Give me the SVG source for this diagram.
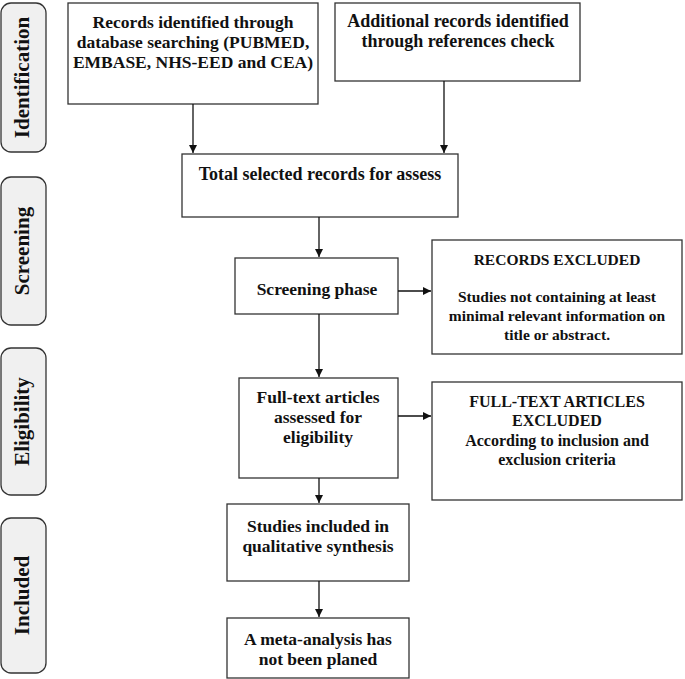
<svg xmlns="http://www.w3.org/2000/svg" width="685" height="679" viewBox="0 0 685 679">
<style>
.box{fill:#fff;stroke:#333;stroke-width:1.3}
.side{fill:#f0f0f0;stroke:#333;stroke-width:1.3}
text{font-family:"Liberation Serif","Times New Roman",serif;font-weight:bold;fill:#111;text-anchor:middle}
.t{font-size:17.5px}
.b{font-size:18px}
.r{font-size:15.5px}
.f{font-size:16px}
.s{font-size:21px}
.c{stroke:#111;stroke-width:1.3;fill:none;marker-end:url(#ah)}
</style>
<defs>
<marker id="ah" viewBox="0 0 10 10" refX="10" refY="5" markerWidth="8" markerHeight="8" markerUnits="userSpaceOnUse" orient="auto">
<path d="M0,0 L10,5 L0,10 Z" fill="#111"/>
</marker>
</defs>
<rect width="685" height="679" fill="#fff"/>
<g id="lab-identification"><rect class="side" x="1" y="3" width="45" height="149" rx="10"/><text class="s" transform="translate(29,77.5) rotate(-90)">Identification</text></g>
<g id="lab-screening"><rect class="side" x="1" y="177" width="45" height="148" rx="10"/><text class="s" transform="translate(29,251) rotate(-90)">Screening</text></g>
<g id="lab-eligibility"><rect class="side" x="1" y="348" width="45" height="147" rx="10"/><text class="s" transform="translate(29,421.5) rotate(-90)">Eligibility</text></g>
<g id="lab-included"><rect class="side" x="1" y="518" width="45" height="155" rx="10"/><text class="s" transform="translate(29,595.5) rotate(-90)">Included</text></g>
<g id="n-db"><rect class="box" x="68" y="3" width="250" height="101"/><text class="t" x="193" y="28">Records identified through</text><text class="t" x="193" y="48">database searching (PUBMED,</text><text class="t" x="193" y="68">EMBASE, NHS-EED and CEA)</text></g>
<g id="n-add"><rect class="box" x="335" y="3" width="245" height="78"/><text class="b" x="458" y="27">Additional records identified</text><text class="b" x="458" y="47">through references check</text></g>
<g id="n-total"><rect class="box" x="182" y="154" width="276" height="63"/><text class="b" x="320" y="180">Total selected records for assess</text></g>
<g id="n-screen"><rect class="box" x="235" y="258" width="163" height="56"/><text class="t" x="317" y="295">Screening phase</text></g>
<g id="n-rexcl"><rect class="box" x="432" y="240" width="250" height="114"/><text class="r" x="557" y="265">RECORDS EXCLUDED</text><text class="r" x="557" y="302">Studies not containing at least</text><text class="r" x="557" y="321">minimal relevant information on</text><text class="r" x="557" y="340">title or abstract.</text></g>
<g id="n-full"><rect class="box" x="239" y="378" width="159" height="100"/><text class="t" x="318" y="403">Full-text articles</text><text class="t" x="318" y="423">assessed for</text><text class="t" x="318" y="443">eligibility</text></g>
<g id="n-fexcl"><rect class="box" x="432" y="382" width="250" height="118"/><text class="f" x="557" y="407">FULL-TEXT ARTICLES</text><text class="f" x="557" y="426">EXCLUDED</text><text class="f" x="557" y="446">According to inclusion and</text><text class="f" x="557" y="465">exclusion criteria</text></g>
<g id="n-studies"><rect class="box" x="227" y="504" width="182" height="77"/><text class="t" x="318" y="532">Studies included in</text><text class="t" x="318" y="552">qualitative synthesis</text></g>
<g id="n-meta"><rect class="box" x="227" y="618" width="182" height="60"/><text class="t" x="318" y="645">A meta-analysis has</text><text class="t" x="318" y="665">not been planed</text></g>
<g id="connectors">
<line class="c" x1="193" y1="104" x2="193" y2="153"/>
<line class="c" x1="444" y1="81" x2="444" y2="153"/>
<line class="c" x1="319" y1="217" x2="319" y2="257"/>
<line class="c" x1="398" y1="291" x2="431" y2="291"/>
<line class="c" x1="319" y1="314" x2="319" y2="377"/>
<line class="c" x1="398" y1="416" x2="431" y2="416"/>
<line class="c" x1="319" y1="478" x2="319" y2="503"/>
<line class="c" x1="319" y1="581" x2="319" y2="617"/>
</g>
</svg>
